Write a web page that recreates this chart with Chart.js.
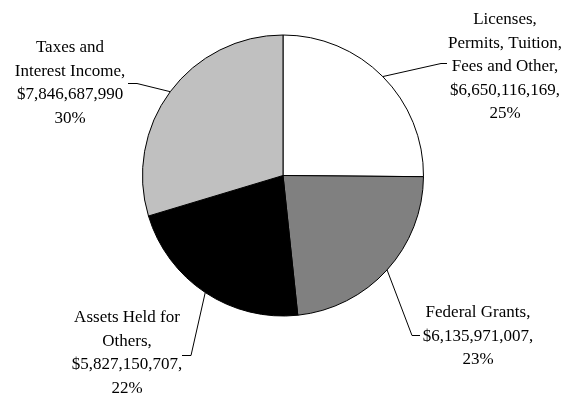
<!DOCTYPE html>
<html lang="en">
<head>
    <meta charset="UTF-8">
    <title>Revenue Sources</title>
    <script src="https://cdn.jsdelivr.net/npm/chart.js"></script>
    <style>
        html, body {
            margin: 0;
            padding: 0;
            background: #ffffff;
        }
        canvas {
            display: block;
        }
    </style>
</head>
<body>
    <canvas id="pieChart" width="566" height="399"></canvas>

    <script>
        // Revenue by source
        const categories = [
            ['Licenses,', 'Permits, Tuition,', 'Fees and Other,'],
            ['Federal Grants,'],
            ['Assets Held for', 'Others,'],
            ['Taxes and', 'Interest Income,']
        ];
        const values = [6650116169, 6135971007, 5827150707, 7846687990];
        const valueSuffix = [',', ',', ',', ''];
        const sliceColors = ['#ffffff', '#808080', '#000000', '#c0c0c0'];

        // Where each label block sits and how its leader line bends
        const lineHeight = 23.4;
        const labelLayout = [
            { x: 505, y: 20, elbow: [441, 63], end: [447, 63] },
            { x: 478, y: 313, elbow: [412, 335], end: [420, 335] },
            { x: 127, y: 318, elbow: [191, 355], end: [182, 355] },
            { x: 70, y: 48, elbow: [137, 83], end: [128, 83] }
        ];

        const total = values.reduce((a, b) => a + b, 0);
        const money = v => '$' + v.toLocaleString('en-US');

        const outsideLabels = {
            id: 'outsideLabels',
            afterDatasetsDraw(chart) {
                const ctx = chart.ctx;
                const arcs = chart.getDatasetMeta(0).data;
                ctx.save();
                ctx.font = '17px "Liberation Serif", "Times New Roman", serif';
                ctx.fillStyle = '#000000';
                ctx.strokeStyle = '#000000';
                ctx.lineWidth = 1;
                ctx.textAlign = 'center';
                ctx.textBaseline = 'middle';
                arcs.forEach((arc, i) => {
                    const { x, y, startAngle, endAngle, outerRadius } = arc.getProps(
                        ['x', 'y', 'startAngle', 'endAngle', 'outerRadius'], true);
                    const mid = (startAngle + endAngle) / 2;
                    const ax = x + Math.cos(mid) * outerRadius;
                    const ay = y + Math.sin(mid) * outerRadius;
                    const lay = labelLayout[i];

                    ctx.beginPath();
                    ctx.moveTo(ax, ay);
                    ctx.lineTo(lay.elbow[0], lay.elbow[1] + 0.5);
                    ctx.lineTo(lay.end[0], lay.end[1] + 0.5);
                    ctx.stroke();

                    const pct = Math.round(values[i] / total * 100) + '%';
                    const lines = categories[i].concat([money(values[i]) + valueSuffix[i], pct]);
                    lines.forEach((t, k) => ctx.fillText(t, lay.x, lay.y + k * lineHeight));
                });
                ctx.restore();
            }
        };

        const ctx = document.getElementById('pieChart').getContext('2d');
        new Chart(ctx, {
            type: 'pie',
            data: {
                labels: categories.map(c => c.join(' ')),
                datasets: [{
                    data: values,
                    backgroundColor: sliceColors,
                    borderColor: '#000000',
                    borderWidth: 1
                }]
            },
            options: {
                responsive: false,
                animation: false,
                layout: {
                    padding: { top: 34, bottom: 82, left: 142, right: 142 }
                },
                plugins: {
                    legend: { display: false },
                    tooltip: { enabled: false }
                }
            },
            plugins: [outsideLabels]
        });
    </script>
</body>
</html>
